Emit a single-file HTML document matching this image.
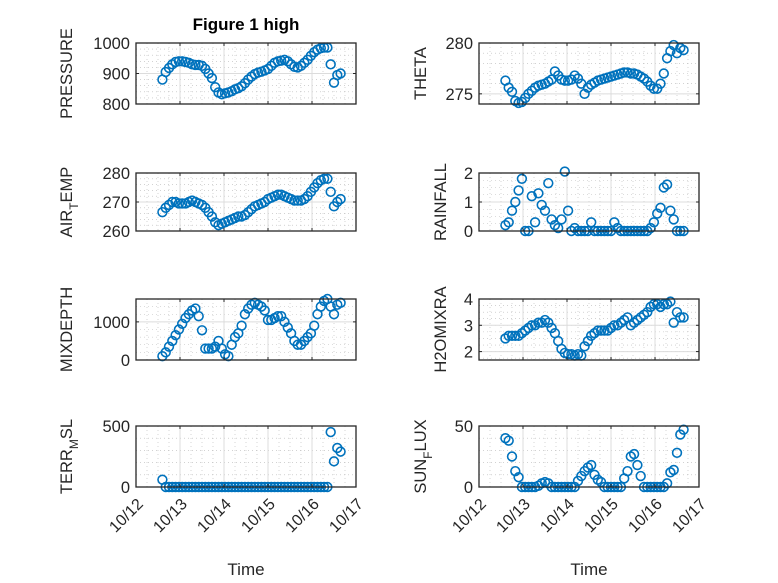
<!DOCTYPE html>
<html><head><meta charset="utf-8">
<style>
html,body{margin:0;padding:0;background:#fff;}
svg{display:block;font-family:"Liberation Sans","DejaVu Sans",sans-serif;}
</style></head>
<body>
<svg id="fig" width="778" height="583" viewBox="0 0 778 583" xmlns="http://www.w3.org/2000/svg">
<rect width="778" height="583" fill="#fff"/>
<text x="246" y="30" text-anchor="middle" font-size="17" font-weight="bold" fill="#000">Figure 1 high</text>
</svg>
<script>
// shared time axis: days of October, first sample and step
const tStart = 12.6;
const tStep = 0.075;
const xTickLabels = ["10/12","10/13","10/14","10/15","10/16","10/17"];
const xTickDays = [12,13,14,15,16,17];

const pressure = [880,905,918,930,938,940,940,938,935,930,
 928,928,925,915,900,885,855,838,832,835,
 838,842,848,852,858,868,880,890,898,903,
 906,910,915,925,935,940,942,945,940,930,
 922,920,925,935,945,958,970,978,983,985,
 985,930,870,895,900];
const airTemp = [266.5,268,269,270,270,269.5,269.5,269.5,270,270.5,
 270,269.5,269,268,266.5,265,263,262,262.5,263,
 263.5,264,264.5,265,265,265.5,266.5,267.5,268.5,269,
 269.5,270,271,271.5,272,272.5,272.5,272,271.5,271,
 270.5,270.5,270.5,271,272,273.5,275,276.5,277.5,278,
 278,273.5,268.5,270,271];
const mixDepth = [100,200,350,500,650,800,950,1100,1200,1300,
 1350,1150,780,300,300,300,350,500,300,150,
 100,400,600,700,900,1200,1350,1450,1500,1450,
 1400,1300,1050,1050,1100,1150,1150,1000,850,700,
 500,400,400,500,600,700,900,1200,1400,1550,
 1600,1400,1200,1450,1500];
const terrMsl = [60,0,0,0,0,0,0,0,0,0,
 0,0,0,0,0,0,0,0,0,0,
 0,0,0,0,0,0,0,0,0,0,
 0,0,0,0,0,0,0,0,0,0,
 0,0,0,0,0,0,0,0,0,0,
 0,450,210,320,290];
const theta = [276.3,275.6,275.2,274.3,274.1,274.2,274.6,275,275.3,275.6,
 275.8,275.9,276,276.2,276.4,277.2,276.8,276.4,276.3,276.3,
 276.4,276.8,276.5,276,275,275.6,275.9,276.1,276.3,276.4,
 276.5,276.6,276.7,276.8,276.9,277,277.1,277.1,277,277,
 276.9,276.7,276.5,276.2,275.8,275.5,275.5,276,277,278.5,
 279.2,279.8,279,279.5,279.3];
const rainfall = [0.2,0.3,0.7,1.0,1.4,1.8,0,0,1.2,0.3,
 1.3,0.9,0.7,1.65,0.4,0.2,0.1,0.4,2.05,0.7,
 0,0.1,0,0,0,0,0.3,0,0,0,
 0,0,0,0.3,0.1,0,0,0,0,0,
 0,0,0,0,0.1,0.3,0.6,0.8,1.5,1.6,
 0.7,0.4,0,0,0];
const h2oMix = [2.5,2.6,2.6,2.6,2.6,2.7,2.8,2.9,3.0,3.0,
 3.1,3.1,3.2,3.1,2.9,2.7,2.4,2.1,1.95,1.9,
 1.9,1.85,1.9,1.85,2.2,2.4,2.6,2.7,2.8,2.8,
 2.8,2.8,2.9,3.0,3.0,3.1,3.2,3.3,3.0,3.1,
 3.2,3.3,3.4,3.5,3.7,3.8,3.8,3.7,3.8,3.8,
 3.9,3.1,3.5,3.3,3.3];
const sunFlux = [40,38,25,13,8,0,0,0,0,0,
 1,3,4,3,0,0,0,0,0,0,
 0,0,5,9,13,16,18,10,6,4,
 0,0,0,0,0,0,7,13,25,27,
 18,9,0,0,0,0,0,0,0,3,
 12,14,28,43,47];

const pressureTicks = [800,900,1000];
const airTempTicks = [260,270,280];
const mixTicks = [0,1000];
const terrTicks = [0,500];
const thetaTicks = [275,280];
const rainTicks = [0,1,2];
const h2oTicks = [2,3,4];
const sunTicks = [0,50];

const svg = document.getElementById('fig');
const NS = 'http://www.w3.org/2000/svg';
function mk(tag, attrs, parent){
  const e = document.createElementNS(NS, tag);
  for (const k in attrs) e.setAttribute(k, attrs[k]);
  (parent||svg).appendChild(e);
  return e;
}

const panels = [
 {name:'pressure', x:136, y:43, w:220, h:61, ymin:800, ymax:1000, minor:20, ticks:pressureTicks, data:pressure, label:['PRESSURE'], lx:72, bottom:false},
 {name:'air-temp', x:136, y:173, w:220, h:58, ymin:260, ymax:280, minor:2, ticks:airTempTicks, data:airTemp, label:['AIR','T','EMP'], lx:72, bottom:false},
 {name:'mixdepth', x:136, y:299, w:220, h:61, ymin:0, ymax:1600, minor:200, ticks:mixTicks, data:mixDepth, label:['MIXDEPTH'], lx:72, bottom:false},
 {name:'terr-msl', x:136, y:426, w:220, h:61, ymin:0, ymax:500, minor:100, ticks:terrTicks, data:terrMsl, label:['TERR','M','SL'], lx:72, bottom:true},
 {name:'theta', x:479, y:43, w:220, h:61, ymin:274, ymax:280, minor:1, ticks:thetaTicks, data:theta, label:['THETA'], lx:426, bottom:false},
 {name:'rainfall', x:479, y:173, w:220, h:58, ymin:0, ymax:2, minor:0.25, ticks:rainTicks, data:rainfall, label:['RAINFALL'], lx:446, bottom:false},
 {name:'h2omixra', x:479, y:299, w:220, h:61, ymin:1.68, ymax:4, minor:0.25, ticks:h2oTicks, data:h2oMix, label:['H2OMIXRA'], lx:446, bottom:false},
 {name:'sun-flux', x:479, y:426, w:220, h:61, ymin:0, ymax:50, minor:10, ticks:sunTicks, data:sunFlux, label:['SUN','F','LUX'], lx:426, bottom:true}
];

panels.forEach(p=>{
  const g = mk('g',{});
  
  
  const xs = d => p.x + (d-12)/5*p.w;
  const ys = v => p.y + p.h - (v-p.ymin)/(p.ymax-p.ymin)*p.h;
  for (let d=12; d<17; d+=0.25){
    if (Math.abs(d-Math.round(d))<1e-6) continue;
    const l = mk('line',{x1:xs(d),x2:xs(d),y1:p.y,y2:p.y+p.h,stroke:'#b8b8b8','stroke-width':0.6,'stroke-dasharray':'1 3'},g);
    
    
  }
  const start = Math.ceil(p.ymin/p.minor)*p.minor;
  for (let v=start; v<p.ymax-1e-9; v+=p.minor){
    const l = mk('line',{x1:p.x,x2:p.x+p.w,y1:ys(v),y2:ys(v),stroke:'#b8b8b8','stroke-width':0.6,'stroke-dasharray':'1 3'},g);
    
    
  }
  xTickDays.forEach(d=>{
    const l = mk('line',{x1:xs(d),x2:xs(d),y1:p.y,y2:p.y+p.h,stroke:'#dcdcdc','stroke-width':1},g);
    
    
  });
  p.ticks.forEach(v=>{
    const l = mk('line',{x1:p.x,x2:p.x+p.w,y1:ys(v),y2:ys(v),stroke:'#dcdcdc','stroke-width':1},g);
    
    
  });
  p.data.forEach((v,i)=>{
    const c = mk('circle',{cx:xs(tStart+i*tStep),cy:ys(v),r:4.4,fill:'none',stroke:'#0072BD','stroke-width':1.6},g);
    
    
  });
  const b = mk('rect',{x:p.x,y:p.y,width:p.w,height:p.h,fill:'none',stroke:'#262626','stroke-width':1.3},g);
  
  
  xTickDays.forEach((d,k)=>{
    mk('line',{x1:xs(d),x2:xs(d),y1:p.y+p.h,y2:p.y+p.h-3,stroke:'#262626','stroke-width':1},g);
    mk('line',{x1:xs(d),x2:xs(d),y1:p.y,y2:p.y+3,stroke:'#262626','stroke-width':1},g);
    if (p.bottom){
      const tx = xs(d)+8, ty = p.y+p.h+18;
      const t = mk('text',{x:tx,y:ty,'text-anchor':'end','font-size':16,fill:'#262626',transform:`rotate(-45 ${tx} ${ty})`},g);
      
      
      t.textContent = xTickLabels[k];
    }
  });
  p.ticks.forEach(v=>{
    mk('line',{x1:p.x,x2:p.x+3,y1:ys(v),y2:ys(v),stroke:'#262626','stroke-width':1},g);
    mk('line',{x1:p.x+p.w,x2:p.x+p.w-3,y1:ys(v),y2:ys(v),stroke:'#262626','stroke-width':1},g);
    const t = mk('text',{x:p.x-6,y:ys(v)+6,'text-anchor':'end','font-size':16.5,fill:'#262626'},g);
    
    
    t.textContent = String(v);
  });
  const cy = p.y+p.h/2;
  const yl = mk('text',{x:p.lx,y:cy,'text-anchor':'middle','font-size':16.5,fill:'#262626',transform:`rotate(-90 ${p.lx} ${cy})`},g);
  
  
  if (p.label.length===1){ yl.textContent = p.label[0]; }
  else {
    const s1 = mk('tspan',{},yl); s1.textContent = p.label[0];
    const s2 = mk('tspan',{dy:6,'font-size':12},yl); s2.textContent = p.label[1];
    const s3 = mk('tspan',{dy:-6},yl); s3.textContent = p.label[2];
  }
  if (p.bottom){
    const xl = mk('text',{x:p.x+p.w/2,y:575,'text-anchor':'middle','font-size':17,fill:'#262626'},g);
    
    
    xl.textContent = 'Time';
  }
});
</script>
</body></html>
